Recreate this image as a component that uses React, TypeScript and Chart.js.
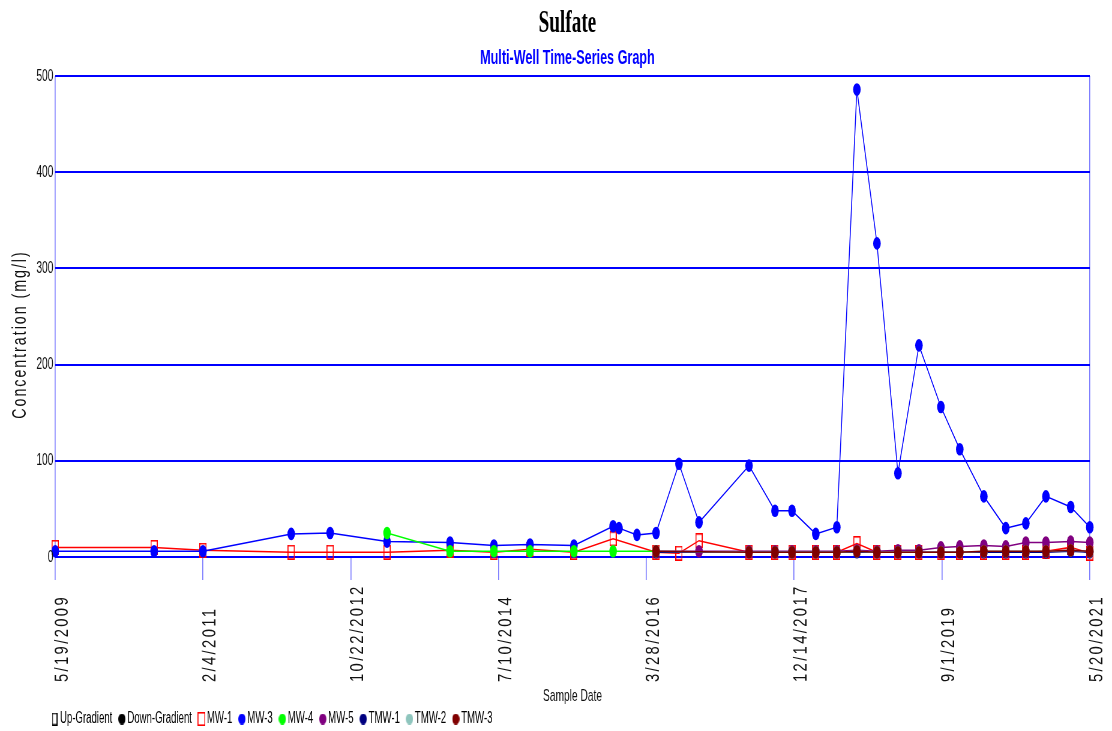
import React, { useEffect, useRef } from 'react';
import { Chart, registerables } from 'chart.js';

Chart.register(...registerables);

// ---- data -------------------------------------------------------------
const TITLE = 'Sulfate';
const SUBTITLE = 'Multi-Well Time-Series Graph';
const X_TITLE = 'Sample Date';
const Y_TITLE = 'Concentration (mg/l)';

const X_TICK_DATES = ['2009-05-19', '2011-02-04', '2012-10-22', '2014-07-10', '2016-03-28', '2017-12-14', '2019-09-01', '2021-05-20'];
const Y_TICKS = [0, 100, 200, 300, 400, 500];

const MW1_DATES = ['2009-05-19', '2010-07-12', '2011-02-04', '2012-02-13', '2012-07-27', '2013-03-25', '2013-12-17', '2014-06-21', '2014-11-21', '2015-05-26', '2015-11-08', '2016-05-08', '2016-08-13', '2016-11-06', '2017-06-06', '2017-09-24', '2017-12-05', '2018-03-16', '2018-06-13', '2018-09-06', '2018-11-30', '2019-02-27', '2019-05-27', '2019-08-28', '2019-11-16', '2020-02-26', '2020-05-29', '2020-08-22', '2020-11-15', '2021-02-28', '2021-05-20'];
const MW1_VALUES = [10, 10, 7, 5, 5, 5, 7, 5, 8, 5, 19, 5, 4, 17, 5, 5, 5, 5, 5, 14, 5, 5, 5, 5, 5, 5, 5, 5, 6, 10, 4];

const MW3_DATES = ['2009-05-19', '2010-07-12', '2011-02-04', '2012-02-13', '2012-07-27', '2013-03-25', '2013-12-17', '2014-06-21', '2014-11-21', '2015-05-26', '2015-11-08', '2015-12-03', '2016-02-17', '2016-05-08', '2016-08-13', '2016-11-06', '2017-06-06', '2017-09-24', '2017-12-05', '2018-03-16', '2018-06-13', '2018-09-06', '2018-11-30', '2019-02-27', '2019-05-27', '2019-08-28', '2019-11-16', '2020-02-26', '2020-05-29', '2020-08-22', '2020-11-15', '2021-02-28', '2021-05-20'];
const MW3_VALUES = [6, 6, 6, 24, 25, 16, 15, 12, 13, 12, 32, 30, 23, 25, 97, 36, 95, 48, 48, 24, 31, 486, 326, 87, 220, 156, 112, 63, 30, 35, 63, 52, 31];

const MW4_DATES = ['2013-03-25', '2013-12-17', '2014-06-21', '2014-11-21', '2015-05-26', '2015-11-08', '2016-05-08'];
const MW4_VALUES = [25, 6, 6, 6, 6, 6, 6];

const MW5_DATES = ['2016-05-08', '2016-11-06', '2017-06-06', '2017-09-24', '2017-12-05', '2018-03-16', '2018-06-13', '2018-09-06', '2018-11-30', '2019-02-27', '2019-05-27', '2019-08-28', '2019-11-16', '2020-02-26', '2020-05-29', '2020-08-22', '2020-11-15', '2021-02-28', '2021-05-20'];
const MW5_VALUES = [6, 6, 6, 6, 6, 6, 6, 7, 6, 7, 7, 10, 11, 12, 11, 15, 15, 16, 15];

const TMW_DATES = ['2016-05-08', '2017-06-06', '2017-09-24', '2017-12-05', '2018-03-16', '2018-06-13', '2018-09-06', '2018-11-30', '2019-02-27', '2019-05-27', '2019-08-28', '2019-11-16', '2020-02-26', '2020-05-29', '2020-08-22', '2020-11-15', '2021-02-28', '2021-05-20'];
const TMW1_VALUES = [5, 5, 5, 5, 5, 5, 5, 5, 5, 5, 5, 5, 5, 5, 5, 5, 6, 5];
const TMW2_VALUES = [6, 5, 5, 5, 5, 5, 6, 5, 5, 5, 5, 5, 6, 6, 6, 6, 7, 6];
const TMW3_VALUES = [6, 5, 5, 5, 5, 5, 6, 5, 5, 5, 5, 5, 6, 6, 6, 6, 7, 6];

const SERIES_NAMES = ['MW-1', 'MW-3', 'MW-4', 'MW-5', 'TMW-1', 'TMW-2', 'TMW-3'];
const SERIES_COLORS = ['#ff0000', '#0000ff', '#00ff00', '#800080', '#000080', '#8ec5bd', '#800000'];
const GROUP_NAMES = ['Up-Gradient', 'Down-Gradient'];

// ---- drawing set-up ---------------------------------------------------
const S = 0.6; // horizontal compression between canvas bitmap and page
const CSS_W = 1112;
const CSS_H = 731;
const BMP_W = Math.round(CSS_W / S);
const AXIS_BLUE = '#7f7fff';
const SANS = '"Liberation Sans", Arial, sans-serif';

const DAY = 86400000;
const toDay = (s: string) => {
  const [y, m, d] = s.split('-').map(Number);
  return Date.UTC(y, m - 1, d) / DAY;
};
const fmtDate = (v: number) => {
  const d = new Date(Math.round(v) * DAY);
  return `${d.getUTCMonth() + 1}/${d.getUTCDate()}/${d.getUTCFullYear()}`;
};
const pts = (dates: string[], vals: number[]) => dates.map((d, i) => ({ x: toDay(d), y: vals[i] }));

function makeMarker(shape: 'rect' | 'dot', color: string, w: number, h: number, lw = 1.5) {
  const c = document.createElement('canvas');
  c.width = w;
  c.height = h;
  const g = c.getContext('2d')!;
  if (shape === 'rect') {
    g.strokeStyle = color;
    g.lineWidth = lw;
    g.strokeRect(lw / 2, lw / 2, w - lw, h - lw);
  } else {
    g.fillStyle = color;
    g.beginPath();
    g.ellipse(w / 2, h / 2, w / 2, h / 2, 0, 0, Math.PI * 2);
    g.fill();
  }
  return c;
}

// draws the axis texts (tick labels and y title) on the library's scales
const axisTextPlugin = {
  id: 'axisText',
  afterDraw(chart: any) {
    const { ctx } = chart;
    const xs = chart.scales.x;
    const ys = chart.scales.y;
    ctx.save();
    ctx.fillStyle = '#111';

    // y tick labels
    ctx.font = `17px ${SANS}`;
    ctx.textAlign = 'right';
    ctx.textBaseline = 'middle';
    for (const t of ys.ticks) {
      ctx.fillText(String(t.value), ys.right - 3, ys.getPixelForValue(t.value));
    }

    // rotated date labels, starting at the bottom and reading upward
    ctx.textBaseline = 'alphabetic';
    ctx.font = `19px ${SANS}`;
    ctx.textAlign = 'left';
    (ctx as any).letterSpacing = '3px';
    for (const t of xs.ticks) {
      const px = xs.getPixelForValue(t.value);
      ctx.save();
      ctx.translate(px + 12.6 / S, 682);
      ctx.scale(1 / S, 1);
      ctx.rotate(-Math.PI / 2);
      ctx.scale(0.78, 1);
      ctx.fillText(fmtDate(t.value), 0, 0);
      ctx.restore();
    }

    // y-axis title
    ctx.font = `20px ${SANS}`;
    ctx.textAlign = 'center';
    (ctx as any).letterSpacing = '2.8px';
    ctx.save();
    ctx.translate(26 / S, (ys.top + ys.bottom) / 2 + 18);
    ctx.scale(1 / S, 1);
    ctx.rotate(-Math.PI / 2);
    ctx.scale(0.71, 1);
    ctx.fillText(ys.options.title.text, 0, 0);
    ctx.restore();
    ctx.restore();
  },
};

export default function App() {
  const ref = useRef<HTMLCanvasElement | null>(null);

  useEffect(() => {
    if (!ref.current) return;
    const rectRed = makeMarker('rect', '#ff0000', 12, 15, 1.6);
    const seriesData = [
      pts(MW1_DATES, MW1_VALUES),
      pts(MW3_DATES, MW3_VALUES),
      pts(MW4_DATES, MW4_VALUES),
      pts(MW5_DATES, MW5_VALUES),
      pts(TMW_DATES, TMW1_VALUES),
      pts(TMW_DATES, TMW2_VALUES),
      pts(TMW_DATES, TMW3_VALUES),
    ];
    const datasets = SERIES_NAMES.map((name, i) => ({
      label: name,
      data: seriesData[i],
      borderColor: SERIES_COLORS[i],
      backgroundColor: SERIES_COLORS[i],
      borderWidth: 1.5,
      pointStyle: i === 0 ? rectRed : 'circle',
      pointRadius: 6.3,
      pointBorderWidth: 0,
      tension: 0,
      clip: false as any,
      order: SERIES_NAMES.length - i,
    }));

    const legendMarkers = [
      makeMarker('rect', '#000000', 9, 13, 1.5),
      makeMarker('dot', '#000000', 12, 11),
      makeMarker('rect', '#ff0000', 13, 14, 1.6),
      ...SERIES_COLORS.slice(1).map((c) => makeMarker('dot', c, 12, 11)),
    ];
    const legendNames = [...GROUP_NAMES, ...SERIES_NAMES];

    const chart = new Chart(ref.current, {
      type: 'line',
      data: { datasets },
      options: {
        responsive: false,
        devicePixelRatio: 1,
        animation: false,
        events: [],
        layout: { padding: { left: 75, right: 37, top: 0, bottom: -6 } },
        font: { family: SANS },
        scales: {
          x: {
            type: 'linear',
            min: toDay(X_TICK_DATES[0]),
            max: toDay(X_TICK_DATES[X_TICK_DATES.length - 1]),
            afterBuildTicks: (s: any) => {
              s.ticks = X_TICK_DATES.map((d) => ({ value: toDay(d) }));
            },
            ticks: { display: false, callback: (v: any) => fmtDate(Number(v)) },
            grid: {
              color: (c: any) => (c.index === 0 || c.index === X_TICK_DATES.length - 1 ? AXIS_BLUE : 'rgba(0,0,0,0)'),
              tickColor: AXIS_BLUE,
              tickLength: 23,
              lineWidth: 1 / S,
            },
            border: { display: false },
            title: {
              display: true,
              text: X_TITLE,
              color: '#111',
              font: { family: SANS, size: 17, lineHeight: 1 },
              padding: { top: 0, bottom: -9 },
            },
            afterFit: (s: any) => {
              s.height = 139;
            },
          },
          y: {
            type: 'linear',
            min: 0,
            max: 500,
            afterBuildTicks: (s: any) => {
              s.ticks = Y_TICKS.map((v) => ({ value: v }));
            },
            ticks: { display: false },
            grid: { color: '#0000ff', lineWidth: 2, drawTicks: false },
            border: { display: false },
            title: { display: false, text: Y_TITLE },
            afterFit: (s: any) => {
              s.width = 17;
            },
          },
        },
        plugins: {
          title: {
            display: true,
            text: TITLE,
            color: '#000',
            font: { family: '"Liberation Serif", "Times New Roman", serif', size: 32, weight: 'bold', lineHeight: 1 },
            padding: { top: 8, bottom: 0 },
          },
          subtitle: {
            display: true,
            text: SUBTITLE,
            color: '#0000ff',
            font: { family: SANS, size: 21, weight: 'bold', lineHeight: 1 },
            padding: { top: 8, bottom: 7 },
          },
          legend: {
            display: true,
            position: 'bottom',
            align: 'start',
            labels: {
              usePointStyle: true,
              boxWidth: 2,
              padding: 15,
              color: '#000',
              font: { family: SANS, size: 16 },
              generateLabels: () =>
                legendNames.map((text, i) => ({
                  text,
                  pointStyle: legendMarkers[i],
                  fillStyle: '#000',
                  strokeStyle: '#000',
                  lineWidth: 0,
                  fontColor: '#000',
                  hidden: false,
                  datasetIndex: i >= 2 ? i - 2 : undefined,
                })),
            },
          },
          tooltip: { enabled: false },
        },
      } as any,
      plugins: [axisTextPlugin],
    });
    return () => chart.destroy();
  }, []);

  return (
    <div style={{ position: 'absolute', left: 0, top: 0, width: CSS_W, height: CSS_H, background: '#fff' }}>
      <canvas
        ref={ref}
        width={BMP_W}
        height={CSS_H}
        style={{ width: `${CSS_W}px`, height: `${CSS_H}px`, display: 'block' }}
      />
    </div>
  );
}
